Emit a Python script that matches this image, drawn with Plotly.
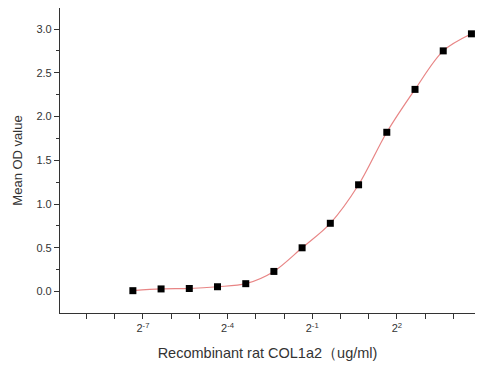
import plotly.graph_objects as go

conc = [0.0061, 0.0122, 0.0244, 0.0488, 0.0977, 0.195, 0.39, 0.78, 1.5625, 3.125, 6.25, 12.5, 25]
od = [0.01, 0.03, 0.035, 0.055, 0.09, 0.23, 0.50, 0.78, 1.22, 1.82, 2.31, 2.75, 2.945]

tick_exps = list(range(-9, 5))
labeled = {-7, -4, -1, 2}
tick_vals = [2.0**e for e in tick_exps]
tick_text = [f"2<sup>{e}</sup>" if e in labeled else "" for e in tick_exps]

fig = go.Figure()
fig.add_trace(go.Scatter(x=conc, y=od, mode="lines", line=dict(color="#e88585", width=1.2, shape="spline", smoothing=0.9), hoverinfo="skip"))
fig.add_trace(go.Scatter(x=conc, y=od, mode="markers", marker=dict(symbol="square", size=7, color="black")))

font = "Liberation Sans, Arial, sans-serif"
fig.update_layout(
    width=480, height=357,
    margin=dict(l=52, r=13, t=0, b=52, autoexpand=False),
    plot_bgcolor="white", paper_bgcolor="white",
    showlegend=False,
    font=dict(family=font, color="#333333", size=11),
    xaxis=dict(type="log", range=[-9.94 * 0.30103, 4.77 * 0.30103], automargin=False,
               tickvals=tick_vals, ticktext=tick_text, ticks="outside", ticklen=5, tickcolor="#333",
               showline=True, linecolor="#333", linewidth=1.2, showgrid=False, zeroline=False,
               title=dict(text="Recombinant rat COL1a2（ug/ml)", font=dict(size=14.5, color="#333"), standoff=14),
               tickfont=dict(size=11)),
    yaxis=dict(range=[-0.245, 3.24], automargin=False, tickvals=[0, 0.5, 1.0, 1.5, 2.0, 2.5, 3.0],
               ticktext=["0.0", "0.5", "1.0", "1.5", "2.0", "2.5", "3.0"],
               ticks="outside", ticklen=5, tickcolor="#333",
               minor=dict(tickvals=[0.25, 0.75, 1.25, 1.75, 2.25, 2.75], ticks="outside", ticklen=3, tickcolor="#333"),
               showline=True, linecolor="#333", linewidth=1.2, showgrid=False, zeroline=False,
               title=dict(text="Mean OD value", font=dict(size=13, color="#333"), standoff=10),
               tickfont=dict(size=11)),
)
fig.write_html("out.html")
